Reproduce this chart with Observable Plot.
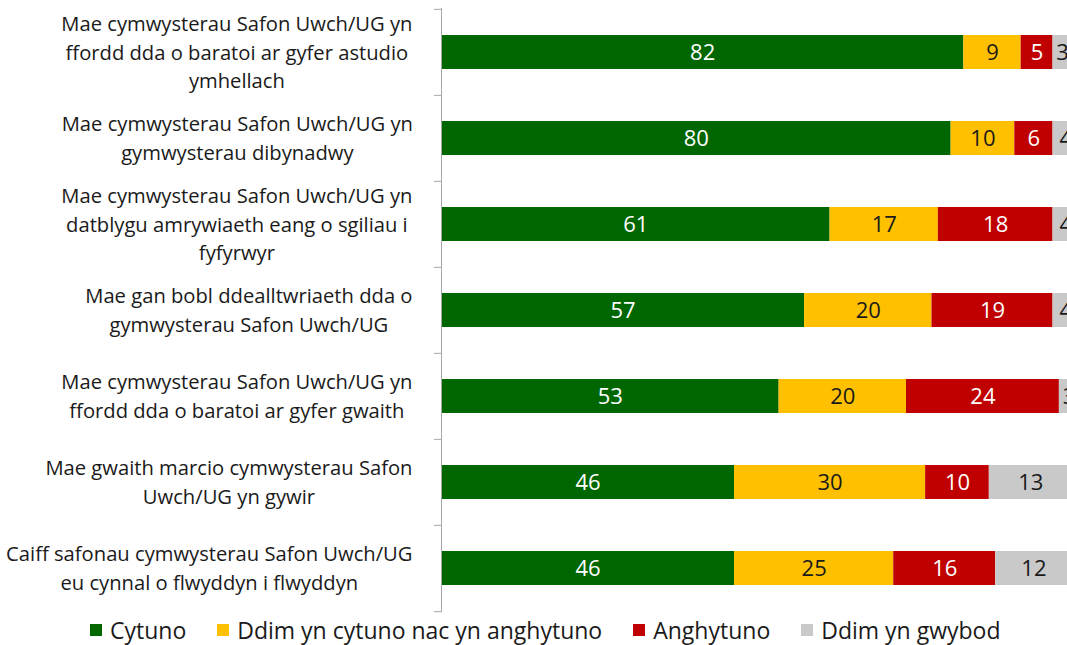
<!DOCTYPE html>
<html>
<head>
<meta charset="utf-8">
<script src="https://cdn.jsdelivr.net/npm/d3@7"></script>
<script src="https://cdn.jsdelivr.net/npm/@observablehq/plot@0.6"></script>
<style>
  html, body { margin: 0; padding: 0; background: white; overflow: hidden; width: 1067px; height: 645px; }
  #chart { position: relative; width: 1067px; height: 645px; }
  #chart svg { position: absolute; left: 0; top: 0; }
  .legend { position: absolute; left: 90px; top: 616px; height: 28px; line-height: 28px; display: flex; align-items: center; font-family: "Open Sans", sans-serif; font-size: 23px; color: #1a1a1a; white-space: nowrap; }
  .legend .item { display: flex; align-items: center; margin-right: 31px; }
  .legend .sw { width: 12px; height: 12px; margin-right: 8px; }
</style>
</head>
<body>
<div id="chart"></div>
<script>
const categories = [
  "Mae cymwysterau Safon Uwch/UG yn\nffordd dda o baratoi ar gyfer astudio\nymhellach",
  "Mae cymwysterau Safon Uwch/UG yn\ngymwysterau dibynadwy",
  "Mae cymwysterau Safon Uwch/UG yn\ndatblygu amrywiaeth eang o sgiliau i\nfyfyrwyr",
  "Mae gan bobl ddealltwriaeth dda o\ngymwysterau Safon Uwch/UG",
  "Mae cymwysterau Safon Uwch/UG yn\nffordd dda o baratoi ar gyfer gwaith",
  "Mae gwaith marcio cymwysterau Safon\nUwch/UG yn gywir",
  "Caiff safonau cymwysterau Safon Uwch/UG\neu cynnal o flwyddyn i flwyddyn"
];
const seriesNames = ["Cytuno", "Ddim yn cytuno nac yn anghytuno", "Anghytuno", "Ddim yn gwybod"];
const cytuno    = [82, 80, 61, 57, 53, 46, 46];
const ddim      = [9, 10, 17, 20, 20, 30, 25];
const anghytuno = [5, 6, 18, 19, 24, 10, 16];
const gwybod    = [3, 4, 4, 4, 3, 13, 12];
const colors = ["#006600", "#FFC000", "#C00000", "#C9C9C9"];
const lightText = ["Cytuno", "Anghytuno"];

const seriesValues = [cytuno, ddim, anghytuno, gwybod];
const data = [];
categories.forEach((c, i) => {
  seriesNames.forEach((s, j) => data.push({cat: c, series: s, value: seriesValues[j][i]}));
});

const H = 620, mTop = 8, mBottom = 8;
const step = (H - mTop - mBottom) / categories.length;
const font = "Open Sans, sans-serif";

const plot = Plot.plot({
  width: 1067,
  height: H,
  marginLeft: 441,
  marginRight: 0,
  marginTop: mTop,
  marginBottom: mBottom,
  style: {fontFamily: font, background: "white"},
  x: {domain: [0, 100], range: [441, 1078], axis: null},
  y: {domain: categories, paddingInner: 0.606, paddingOuter: 0.303, axis: null, label: null},
  color: {domain: seriesNames, range: colors},
  marks: [
    Plot.barX(data, {x: "value", y: "cat", fill: "series", order: seriesNames}),
    Plot.text(data, Plot.stackX({x: "value", y: "cat", z: "series", order: seriesNames,
      text: d => lightText.includes(d.series) ? String(d.value) : "", fill: "white", fontSize: 22})),
    Plot.text(data, Plot.stackX({x: "value", y: "cat", z: "series", order: seriesNames,
      text: d => lightText.includes(d.series) ? "" : String(d.value), fill: "#1a1a1a", fontSize: 22})),
    Plot.ruleX([0], {stroke: "#a6a6a6", strokeWidth: 1}),
    Plot.axisY({tickSize: 7, tickFormat: null, label: null, stroke: "#a6a6a6", dy: -step / 2}),
    Plot.axisY({ticks: [categories[categories.length - 1]], tickSize: 7, tickFormat: null, label: null, stroke: "#a6a6a6", dy: step / 2}),
    Plot.text(categories, {y: d => d, text: d => d, frameAnchor: "left", textAnchor: "end", dx: -29, dy: -2,
      lineHeight: 1.4, fontSize: 20.2, fill: "#1a1a1a", className: "catlabel"})
  ]
});
document.getElementById("chart").appendChild(plot);

// center multi-line labels within their block (block right-aligned)
plot.querySelectorAll("g.catlabel text").forEach(t => {
  const bb = t.getBBox();
  const tr = t.getAttribute("transform") || "";
  const m = tr.match(/translate\(([-\d.e]+),\s*([-\d.e]+)\)/);
  if (m) {
    const tx = +m[1];
    const cx = tx + bb.x + bb.width / 2;
    t.setAttribute("text-anchor", "middle");
    t.setAttribute("transform", `translate(${cx},${m[2]})`);
  }
});

const legend = document.createElement("div");
legend.className = "legend";
seriesNames.forEach((s, i) => {
  const item = document.createElement("div");
  item.className = "item";
  const sw = document.createElement("div");
  sw.className = "sw";
  sw.style.background = colors[i];
  const lab = document.createElement("span");
  lab.textContent = s;
  item.appendChild(sw); item.appendChild(lab);
  legend.appendChild(item);
});
document.getElementById("chart").appendChild(legend);
</script>
</body>
</html>
